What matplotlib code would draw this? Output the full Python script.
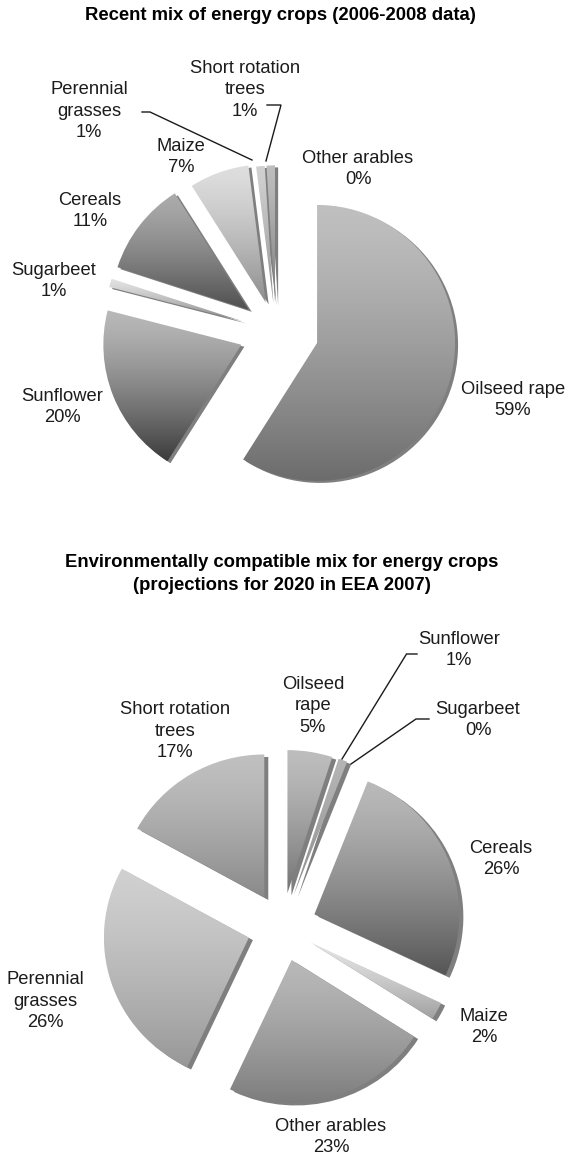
import numpy as np
import matplotlib
matplotlib.use("Agg")
import matplotlib.pyplot as plt
from matplotlib.colors import LinearSegmentedColormap

W, H = 568, 1157
plt.rcParams['font.family'] = ['Liberation Sans', 'DejaVu Sans']

# Data: recent mix
recent_names = ["Oilseed rape", "Sunflower", "Sugarbeet", "Cereals", "Maize",
                "Perennial grasses", "Short rotation trees", "Other arables"]
recent_values = [59, 20, 1, 11, 7, 1, 1, 0]

# Data: environmentally compatible mix
compat_names = ["Oilseed rape", "Sunflower", "Sugarbeet", "Cereals", "Maize",
                "Other arables", "Perennial grasses", "Short rotation trees"]
compat_values = [5, 1, 0, 26, 2, 23, 26, 17]

title_top = "Recent mix of energy crops (2006-2008 data)"
title_bottom = "Environmentally compatible mix for energy crops\n(projections for 2020 in EEA 2007)"

# Styles
recent_explode = [0.31, 0.27, 0.25, 0.25, 0.22, 0.20, 0.20, 0.20]
compat_explode = [0.24, 0.24, 0.24, 0.24, 0.22, 0.24, 0.24, 0.24]
recent_grad = [("#bfbfbf", "#6c6c6c"), ("#b8b8b8", "#3c3c3c"), ("#e2e2e2", "#888888"),
               ("#ababab", "#4f4f4f"), ("#dedede", "#8e8e8e"), ("#d0d0d0", "#8c8c8c"),
               ("#bdbdbd", "#777777"), ("#bbbbbb", "#777777")]
compat_grad = [("#bdbdbd", "#747474"), ("#b4b4b4", "#8a8a8a"), ("#b4b4b4", "#8a8a8a"),
               ("#b9b9b9", "#565656"), ("#e4e4e4", "#a0a0a0"), ("#b8b8b8", "#7d7d7d"),
               ("#d0d0d0", "#989898"), ("#c0c0c0", "#8a8a8a")]

recent_labels = [("Short rotation\ntrees\n1%", 245, 90), ("Perennial\ngrasses\n1%", 89, 111),
                 ("Maize\n7%", 181, 157), ("Other arables\n0%", 358, 169),
                 ("Cereals\n11%", 90, 211), ("Sugarbeet\n1%", 54, 281),
                 ("Sunflower\n20%", 62, 407), ("Oilseed rape\n59%", 513, 400)]
compat_labels = [("Sunflower\n1%", 459, 650), ("Sugarbeet\n0%", 478, 720),
                 ("Oilseed\nrape\n5%", 313, 706), ("Short rotation\ntrees\n17%", 175, 731),
                 ("Cereals\n26%", 501, 859), ("Maize\n2%", 484, 1027),
                 ("Perennial\ngrasses\n26%", 45, 1001), ("Other arables\n23%", 331, 1137)]
leaders = [([142, 150, 252], [112, 112, 160]), ([267, 281, 266], [105, 105, 161]),
           ([417, 406.5, 342], [654, 654, 759]), ([429, 416, 351], [719, 719, 764])]

fig = plt.figure(figsize=(W / 100, H / 100), dpi=100, facecolor="white")


def draw_pie(values, explode, grads, cx, cy, rx, ry, shx, shy):
    a = 1.75
    ax = fig.add_axes([(cx - a * rx) / W, 1 - (cy + a * ry) / H, 2 * a * rx / W, 2 * a * ry / H])
    ax.patch.set_alpha(0)
    sx, sy = shx / rx, -shy / ry
    ax.pie(values, explode=explode, startangle=90, counterclock=False, radius=1.0,
           center=(sx, sy), colors=["#7f7f7f"] * len(values), normalize=True)
    wedges, _ = ax.pie(values, explode=explode, startangle=90, counterclock=False, radius=1.0,
                       colors=["none"] * len(values), normalize=True)
    grad = (np.linspace(0, 1, 256) ** 1.35).reshape(-1, 1)
    for w, (c0, c1) in zip(wedges, grads):
        ext = w.get_path().transformed(w.get_patch_transform()).get_extents()
        if ext.width <= 1e-6 or ext.height <= 1e-6:
            continue
        cmap = LinearSegmentedColormap.from_list("g", [c0, c1])
        im = ax.imshow(grad, cmap=cmap, aspect="auto", origin="upper", zorder=3,
                       extent=[ext.x0, ext.x1, ext.y0, ext.y1], interpolation="bilinear")
        im.set_clip_path(w)
    ax.set_aspect("auto")
    ax.set_xlim(-a, a)
    ax.set_ylim(-a, a)
    ax.axis("off")


draw_pie(recent_values, recent_explode, recent_grad, 276, 331, 138, 138, 3.0, 2.0)
draw_pie(compat_values, compat_explode, compat_grad, 282, 927, 145, 143, 4.0, 2.5)

# Overlay in pixel coordinates for texts and leader lines
ov = fig.add_axes([0, 0, 1, 1], zorder=10)
ov.set_xlim(0, W)
ov.set_ylim(H, 0)
ov.axis("off")
ov.patch.set_alpha(0)

for xs, ys in leaders:
    ov.plot(xs, ys, color="#1a1a1a", lw=1.0, solid_joinstyle="miter")

for txt, x, y in recent_labels + compat_labels:
    ov.text(x, y, txt, ha="center", va="center", multialignment="center",
            fontsize=13.2, color="#1c1c1c", linespacing=1.36)

ov.text(280, 16, title_top, ha="center", va="center", fontsize=13.3,
        fontweight="bold", color="black")
ov.text(282, 574, title_bottom, ha="center", va="center", multialignment="center",
        fontsize=13.3, fontweight="bold", color="black", linespacing=1.42)

fig.savefig("out.png", dpi=100, facecolor="white")
